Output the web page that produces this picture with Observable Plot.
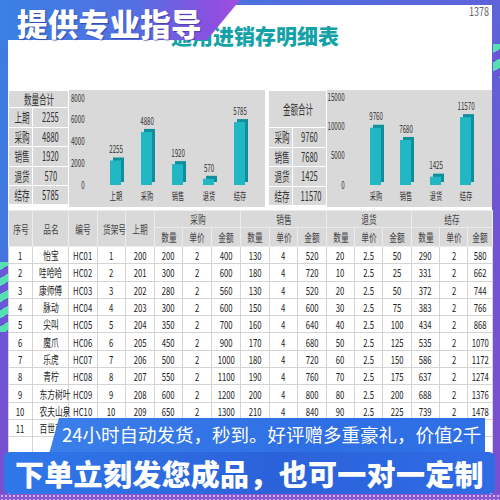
<!DOCTYPE html>
<html><head><meta charset="utf-8">
<script src="https://cdn.jsdelivr.net/npm/d3@7"></script>
<script src="https://cdn.jsdelivr.net/npm/@observablehq/plot@0.6"></script>
<style>
html,body{margin:0;padding:0;background:#fff;}
body{width:500px;height:500px;overflow:hidden;font-family:"Noto Sans CJK SC","Noto Sans",sans-serif;}
#frame{position:relative;width:500px;height:500px;overflow:hidden;
  background:linear-gradient(180deg,#3b7ee2 0%,#4277e0 50%,#6a56d6 62%,#7b4fcf 100%);}
#rstrip{position:absolute;left:492px;top:0;width:8px;height:500px;background:linear-gradient(180deg,#5a66d8,#6f55d2 40%,#7b4fcf);}
#lstripes{position:absolute;left:0;top:262px;width:8px;height:70px;
  background:repeating-linear-gradient(150deg,#55e0b4 0 7px,#6a56d6 7px 14px);}
#rstripes{position:absolute;left:493px;top:44px;width:7px;height:34px;
  background:repeating-linear-gradient(150deg,#55e0b4 0 8px,#6a56d6 8px 16px);}
#bdots{position:absolute;left:0;top:494px;width:500px;height:6px;background:#8a56d4;
  background-image:radial-gradient(circle,#c9b4f0 0.8px,transparent 1.2px);background-size:4px 4px;}
#panel{position:absolute;left:8px;top:5px;width:484px;height:490px;background:#fff;}
#topbar{position:absolute;left:0;top:0;width:500px;height:5px;background:linear-gradient(90deg,#3b7ee2,#5f62da);}
#banner{position:absolute;left:0;top:0;width:240px;height:40px;
  background:linear-gradient(90deg,#3a80e4 0%,#5270e2 55%,#8a50e0 88%,#a04fe0 100%);
  clip-path:polygon(0 0,240px 0,207px 40px,0 40px);}
#bannerText{position:absolute;left:17px;top:0.5px;font-size:30.5px;font-weight:900;color:#fff;line-height:1.448;letter-spacing:0.3px;
  text-shadow:1px 1px 1px rgba(40,30,120,.5);white-space:nowrap;}
#title{position:absolute;left:171px;top:22px;font-size:21px;font-weight:900;color:#14a2a8;line-height:26px;white-space:nowrap;}
#num{position:absolute;left:469px;top:4px;font-size:12px;color:#666;line-height:14px;}
#num span{display:inline-block;transform:scaleX(.75);transform-origin:left;}
.gray{position:absolute;background:#d9d9d9;}
.s{display:inline-block;white-space:nowrap;transform:scaleX(.7);}
.s6{display:inline-block;white-space:nowrap;transform:scaleX(.58);}
table{border-collapse:collapse;table-layout:fixed;position:absolute;}
td{padding:0;text-align:center;vertical-align:middle;overflow:visible;white-space:nowrap;line-height:12px;}
.sum td{border:1px solid #fff;background:#d9d9d9;color:#333;font-size:13px;}
#main td{border:1px solid #d4d4d4;font-size:11px;color:#222;background:#fff;}
#main td.h{background:#d9d9d9;border-color:#ececec;color:#444;font-size:11px;}
.chart{position:absolute;}
#b1{position:absolute;left:49px;top:418px;width:436px;height:36px;z-index:5;
  background:linear-gradient(90deg,#3a7fea,#2f6fe4 60%,#3070e6);
  clip-path:polygon(10px 0,100% 0,100% 100%,0 100%);}
#b1t{position:absolute;left:62px;top:420px;font-size:18.5px;color:#fff;line-height:28px;white-space:nowrap;z-index:7;}
#b2{position:absolute;left:4px;top:452px;width:491px;height:42px;z-index:6;border-radius:6px;
  background:linear-gradient(90deg,#2f78ea,#2b62da 55%,#2f6ce4);}
#b2 span{position:absolute;left:11px;top:3px;font-size:29px;font-weight:900;color:#fff;line-height:36px;white-space:nowrap;letter-spacing:0.3px;}
</style></head>
<body>
<div id="frame">
  <div id="rstrip"></div><div id="lstripes"></div><div id="rstripes"></div>
  <div id="panel"></div>
  <div id="topbar"></div>
  <div id="title">通用进销存明细表</div>
  <div id="banner"></div>
  <div id="bannerText">提供专业指导</div>
  <div id="num"><span>1378</span></div>
  <div class="gray" style="left:69px;top:90px;width:196px;height:117px"></div>
  <div class="gray" style="left:327px;top:90px;width:165px;height:117px"></div>
  <div id="sumQ"></div><div id="sumA"></div>
  <div id="c1" class="chart" style="left:69px;top:90px"></div>
  <div id="c2" class="chart" style="left:327px;top:90px"></div>
  <div id="tbl"></div>
  <div id="b1"></div>
  <div id="b1t">24小时自动发货，秒到。好评赠多重豪礼，价值2千</div>
  <div id="b2"><span>下单立刻发您成品，也可一对一定制</span></div>
  <div id="bdots"></div>
</div>
<script>
// ---- summary data ----
const qtyCats = ["上期","采购","销售","退货","结存"];
const qtyVals = [2255, 4880, 1920, 570, 5785];
const qtyTicks = [0, 2000, 4000, 6000, 8000];
const amtCats = ["采购","销售","退货","结存"];
const amtVals = [9760, 7680, 1425, 11570];
const amtTicks = [0, 5000, 10000, 15000];

// ---- detail table data (row 11 is hidden behind the banner except its first cells) ----
const seq      = [1,2,3,4,5,6,7,8,9,10,11];
const names    = ["怡宝","哇哈哈","康师傅","脉动","尖叫","魔爪","乐虎","青柠","东方树叶","农夫山泉","百世可乐"];
const codes    = ["HC01","HC02","HC03","HC04","HC05","HC06","HC07","HC08","HC09","HC10"];
const shelves  = [1,2,3,4,5,6,7,8,9,10];
const opening  = [200,201,202,203,204,205,206,207,208,209];
const buyQty   = [200,300,280,300,350,450,500,550,600,650];
const buyPrice = [2,2,2,2,2,2,2,2,2,2];
const buyAmt   = [400,600,560,600,700,900,1000,1100,1200,1300];
const saleQty  = [130,180,130,150,160,170,180,190,200,210];
const salePrice= [4,4,4,4,4,4,4,4,4,4];
const saleAmt  = [520,720,520,600,640,680,720,760,800,840];
const retQty   = [20,10,20,30,40,50,60,70,80,90];
const retPrice = [2.5,2.5,2.5,2.5,2.5,2.5,2.5,2.5,2.5,2.5];
const retAmt   = [50,25,50,75,100,125,150,175,200,225];
const stkQty   = [290,331,372,383,434,535,586,637,688,739];
const stkPrice = [2,2,2,2,2,2,2,2,2,2];
const stkAmt   = [580,662,744,766,868,1070,1172,1274,1376,1478];

const headTop = ["序号","品名","编号","货架号","上期"];
const groups = ["采购","销售","退货","结存"];
const subHead = ["数量","单价","金额"];

const s = (t, c="s") => (t === undefined || t === "") ? "" : `<span class="${c}">${t}</span>`;

// summary tables
function sumTable(id, left, title, cats, vals, headH, colW, rowHs) {
  let h = `<table class="sum" style="left:${left}px;top:90px;width:${colW[0]+colW[1]}px"><colgroup><col style="width:${colW[0]}px"><col style="width:${colW[1]}px"></colgroup>`;
  h += `<tr style="height:${headH}px"><td colspan="2">${s(title,"s6")}</td></tr>`;
  cats.forEach((c,i)=>{ h += `<tr style="height:${rowHs[i]}px"><td>${s(c,"s6")}</td><td>${s(vals[i],"s6")}</td></tr>`; });
  h += `</table>`;
  document.getElementById(id).innerHTML = h;
}
sumTable("sumQ", 8, "数量合计", qtyCats, qtyVals, 17, [24,36], [19.5,19.5,19.5,19.5,19]);
sumTable("sumA", 268, "金额合计", amtCats, amtVals, 37, [24,34], [19.5,19.5,19.5,19]);

// detail table
const colW = [24,36,29,28,29, 28,29,29, 29,28,29, 28,28,29, 28,28,25];
let t = `<table id="main" style="left:8px;top:210px;width:484px"><colgroup>${colW.map(w=>`<col style="width:${w}px">`).join("")}</colgroup>`;
t += `<tr style="height:17px">${headTop.map(h=>`<td class="h" rowspan="2">${s(h)}</td>`).join("")}${groups.map(g=>`<td class="h" colspan="3">${s(g)}</td>`).join("")}</tr>`;
t += `<tr style="height:19px">${groups.map(()=>subHead.map(h=>`<td class="h">${s(h)}</td>`).join("")).join("")}</tr>`;
seq.forEach((_,i)=>{
  const vals = [seq[i],names[i],codes[i],shelves[i],opening[i],buyQty[i],buyPrice[i],buyAmt[i],saleQty[i],salePrice[i],saleAmt[i],retQty[i],retPrice[i],retAmt[i],stkQty[i],stkPrice[i],stkAmt[i]];
  t += `<tr style="height:17.3px">${vals.map(v=>`<td>${s(v)}</td>`).join("")}</tr>`;
});
t += `<tr style="height:17.3px">${colW.map(()=>`<td></td>`).join("")}</tr>`;
t += `</table>`;
document.getElementById("tbl").innerHTML = t;

// charts
const font = "'Noto Sans CJK SC','Noto Sans',sans-serif";
function bars(cats, vals, ticks, w, mt, ml) {
  const data = cats.map((c,i)=>({cat:c, val:vals[i]}));
  return Plot.plot({
    width: w, height: 115, marginTop: mt, marginBottom: 20, marginLeft: ml, marginRight: 0,
    style: {background:"transparent", fontFamily: font, fontSize:"10px", color:"#333", overflow:"visible"},
    x: {domain: cats, padding: 0.65, label: null, tickSize: 0, tickPadding: 7},
    y: {domain: [0, ticks[ticks.length-1]], ticks: ticks, tickFormat: d => String(d), label: null, tickSize: 0, tickPadding: 5},
    marks: [
      Plot.barY(data, {x:"cat", y:"val", fill:"#0f8e9b", dx:3, dy:-3}),
      Plot.barY(data, {x:"cat", y:"val", fill:"#22b7c4"}),
      Plot.text(data, {x:"cat", y:"val", text: d => String(d.val), dy:-11, fill:"#333", fontSize: 10})
    ]
  });
}
// narrow the chart texts horizontally, like the squeezed spreadsheet font
function squeeze(svg, k) {
  svg.querySelectorAll("text").forEach(el => {
    const b = el.getBBox();
    const anchor = getComputedStyle(el).textAnchor;
    const cx = anchor === "end" ? b.x + b.width : anchor === "start" ? b.x : b.x + b.width / 2;
    const tr = el.getAttribute("transform") || "";
    el.setAttribute("transform", `${tr} translate(${cx},0) scale(${k},1) translate(${-cx},0)`);
  });
}
const svg1 = bars(qtyCats, qtyVals, qtyTicks, 196, 8, 20);
document.getElementById("c1").appendChild(svg1);
squeeze(svg1, 0.62);
const svg2 = bars(amtCats, amtVals, amtTicks, 165, 7, 22);
document.getElementById("c2").appendChild(svg2);
squeeze(svg2, 0.62);
</script>
</body></html>
